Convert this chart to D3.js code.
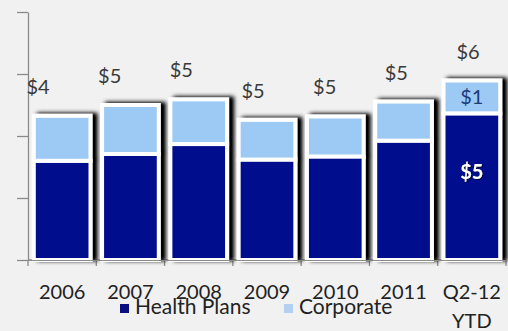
<!DOCTYPE html>
<html>
<head>
<meta charset="utf-8">
<script src="https://cdn.jsdelivr.net/npm/d3@7"></script>
<style>
  html, body { margin: 0; padding: 0; background: #f1f1f1; }
  svg { display: block; font-family: Lato, "Open Sans", sans-serif; }
</style>
</head>
<body>
<svg id="chart" width="508" height="331"></svg>
<script>
// Revenue by segment ($ billions)
const categories = ["2006", "2007", "2008", "2009", "2010", "2011", "Q2-12"];
const categoryLines = [["2006"], ["2007"], ["2008"], ["2009"], ["2010"], ["2011"], ["Q2-12", "YTD"]];
const healthPlans = [3.20, 3.42, 3.74, 3.24, 3.34, 3.85, 4.73];
const corporate   = [1.45, 1.58, 1.44, 1.28, 1.29, 1.26, 1.06];
const totalLabels = ["$4", "$5", "$5", "$5", "$5", "$5", "$6"];
const healthLabels = [null, null, null, null, null, null, "$5"];
const corporateLabels = [null, null, null, null, null, null, "$1"];
const seriesNames = ["Health Plans", "Corporate"];
const yTicks = [0, 2, 4, 6, 8];

const colors = { "Health Plans": "#00088c", "Corporate": "#9ccaf5" };
const legendColors = { "Health Plans": "#0a0f80", "Corporate": "#b3d0f0" };

const svg = d3.select("#chart");

const x = d3.scaleBand().domain(categories).range([28, 506])
  .paddingInner(0.17).paddingOuter(0.085);
const y = d3.scaleLinear().domain([0, 8]).range([260, 12]);
const labelX = d3.scalePoint().domain(categories).range([38, 468]);

// drop shadow behind each column
const defs = svg.append("defs");
const f = defs.append("filter").attr("id", "shadow")
  .attr("x", "-30%").attr("y", "-20%").attr("width", "160%").attr("height", "140%");
f.append("feGaussianBlur").attr("in", "SourceAlpha").attr("stdDeviation", 2.2).attr("result", "b");
f.append("feOffset").attr("in", "b").attr("dx", 5).attr("dy", -1.5).attr("result", "o");
f.append("feComponentTransfer").attr("in", "o").attr("result", "s")
  .append("feFuncA").attr("type", "linear").attr("slope", 1.1);
const m = f.append("feMerge");
m.append("feMergeNode").attr("in", "s");
m.append("feMergeNode").attr("in", "SourceGraphic");

const wText = defs.append("filter").attr("id", "textShadow")
  .attr("x", "-20%").attr("y", "-20%").attr("width", "140%").attr("height", "140%");
wText.append("feDropShadow").attr("dx", 0.8).attr("dy", 0.8).attr("stdDeviation", 0.6)
  .attr("flood-color", "#000").attr("flood-opacity", 0.9);

// value axis
const yAxis = svg.append("g").attr("transform", "translate(28,0)")
  .call(d3.axisLeft(y).tickValues(yTicks).tickSize(11).tickSizeOuter(0).tickFormat(""));
yAxis.selectAll("path, line").attr("stroke", "#8a8a8a").attr("stroke-width", 1.3);

// category baseline with boundary ticks
const axisColor = "#8a8a8a";
svg.append("line").attr("x1", x.range()[0]).attr("x2", x.range()[1])
  .attr("y1", y(0)).attr("y2", y(0)).attr("stroke", axisColor).attr("stroke-width", 1.3);
const edge = (x.step() - x.bandwidth()) / 2;
const bounds = categories.map(c => x(c) - edge).concat([x.range()[1]]);
svg.selectAll("line.ctick").data(bounds).join("line").attr("class", "ctick")
  .attr("x1", d => d).attr("x2", d => d).attr("y1", y(0)).attr("y2", y(0) + 6)
  .attr("stroke", axisColor).attr("stroke-width", 1.3);

// stacked columns
const rows = categories.map((c, i) => ({ cat: c, "Health Plans": healthPlans[i], "Corporate": corporate[i] }));
const stacked = d3.stack().keys(seriesNames)(rows);

const cols = svg.append("g").selectAll("g.col").data(categories).join("g")
  .attr("class", "col").attr("filter", "url(#shadow)");
cols.each(function (c, i) {
  const g = d3.select(this);
  stacked.forEach(layer => {
    const d = layer[i];
    g.append("rect")
      .attr("x", x(c)).attr("width", x.bandwidth())
      .attr("y", y(d[1])).attr("height", y(d[0]) - y(d[1]))
      .attr("fill", colors[layer.key])
      .attr("stroke", "#ffffff").attr("stroke-width", 4);
  });
});

// redraw baseline over column bottoms
svg.append("line").attr("x1", x.range()[0]).attr("x2", x.range()[1])
  .attr("y1", y(0) + 0.5).attr("y2", y(0) + 0.5).attr("stroke", axisColor).attr("stroke-width", 1.2);

// total labels
svg.append("g").selectAll("text").data(categories).join("text")
  .attr("x", c => labelX(c)).attr("y", (c, i) => y(healthPlans[i] + corporate[i]) - 22)
  .attr("text-anchor", "middle").attr("font-size", 20).attr("fill", "#3a3a3a")
  .text((c, i) => totalLabels[i]);

// segment labels
categories.forEach((c, i) => {
  if (corporateLabels[i]) {
    svg.append("text").attr("x", x(c) + x.bandwidth() / 2)
      .attr("y", y(healthPlans[i] + corporate[i] / 2) + 7)
      .attr("text-anchor", "middle").attr("font-size", 20).attr("fill", "#1d3c78")
      .text(corporateLabels[i]);
  }
  if (healthLabels[i]) {
    svg.append("text").attr("x", x(c) + x.bandwidth() / 2)
      .attr("y", y(healthPlans[i]) + 66)
      .attr("text-anchor", "middle").attr("font-size", 20).attr("font-weight", "bold")
      .attr("fill", "#ffffff").attr("filter", "url(#textShadow)")
      .text(healthLabels[i]);
  }
});

// category labels
const catText = svg.append("g").selectAll("text").data(categories).join("text")
  .attr("x", c => x(c) + x.bandwidth() / 2).attr("y", 299)
  .attr("text-anchor", "middle").attr("font-size", 20).attr("fill", "#222");
catText.each(function (c, i) {
  d3.select(this).selectAll("tspan").data(categoryLines[i]).join("tspan")
    .attr("x", x(c) + x.bandwidth() / 2).attr("dy", (d, j) => j === 0 ? 0 : 29)
    .text(d => d);
});

// legend
const legend = svg.append("g");
const legendX = [120, 284];
seriesNames.forEach((name, i) => {
  legend.append("rect").attr("x", legendX[i]).attr("y", 304).attr("width", 9).attr("height", 9)
    .attr("fill", legendColors[name]);
  legend.append("text").attr("x", legendX[i] + 15).attr("y", 314)
    .attr("font-size", 21).attr("fill", "#222").text(name);
});
</script>
</body>
</html>
